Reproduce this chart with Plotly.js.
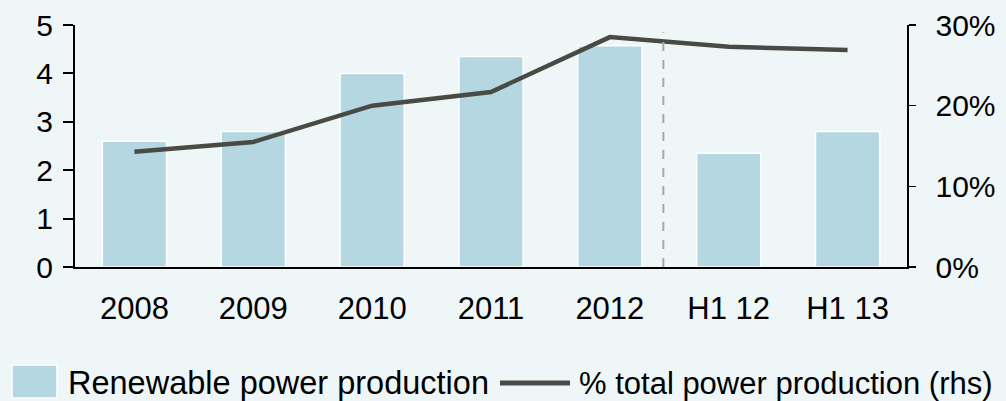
<!DOCTYPE html>
<html>
<head>
<meta charset="utf-8">
<script src="https://cdn.plot.ly/plotly-3.0.1.min.js"></script>
<style>
html,body{margin:0;padding:0;background:#eef6f8;}
#chart{width:1006px;height:401px;}
</style>
</head>
<body>
<div id="chart"></div>
<script>
const categories = ["2008", "2009", "2010", "2011", "2012", "H1 12", "H1 13"];
const renewableProduction = [2.6, 2.8, 4.0, 4.35, 4.57, 2.35, 2.8];
const shareOfTotal = [14.3, 15.5, 20.0, 21.7, 28.5, 27.3, 26.9];
const leftTicks = [0, 1, 2, 3, 4, 5];
const rightTicks = [0, 10, 20, 30];
const rightTickLabels = ["0%", "10%", "20%", "30%"];
const legendLabels = ["Renewable power production", "% total power production (rhs)"];

const barColor = "#b4d7e1";
const lineColor = "#4a4a44";
const font = "Liberation Sans, Arial, sans-serif";

const traces = [
  {
    type: "bar",
    x: categories,
    y: renewableProduction,
    name: legendLabels[0],
    marker: {color: barColor, line: {color: "#ffffff", width: 1.5}},
    width: 0.54,
    yaxis: "y",
    hoverinfo: "x+y"
  },
  {
    type: "scatter",
    mode: "lines",
    x: categories,
    y: shareOfTotal,
    name: legendLabels[1],
    line: {color: lineColor, width: 4.5},
    yaxis: "y2",
    hoverinfo: "x+y"
  }
];

const layout = {
  width: 1006,
  height: 401,
  paper_bgcolor: "#eef6f8",
  plot_bgcolor: "#eef6f8",
  margin: {l: 75, r: 99, t: 25, b: 134},
  showlegend: false,
  font: {family: font, size: 30, color: "#000"},
  xaxis: {
    type: "category",
    categoryorder: "array",
    categoryarray: categories,
    range: [-0.5, 6.5],
    showline: true, linecolor: "#000", linewidth: 2,
    ticks: "", showgrid: false, zeroline: false,
    ticklabelstandoff: 13,
    tickfont: {family: font, size: 31, color: "#000"},
    fixedrange: true
  },
  yaxis: {
    range: [0, 5],
    tickvals: leftTicks,
    showline: true, linecolor: "#000", linewidth: 2,
    ticks: "outside", ticklen: 10, tickwidth: 2, tickcolor: "#000",
    showgrid: false, zeroline: false,
    ticklabelstandoff: 4,
    tickfont: {family: font, size: 30, color: "#000"},
    fixedrange: true
  },
  yaxis2: {
    overlaying: "y",
    side: "right",
    range: [0, 30],
    tickvals: rightTicks,
    ticktext: rightTickLabels,
    showline: true, linecolor: "#000", linewidth: 1.5,
    ticks: "outside", ticklen: 7, tickwidth: 1.5, tickcolor: "#000",
    showgrid: false, zeroline: false,
    ticklabelstandoff: 14,
    tickfont: {family: font, size: 30, color: "#000"},
    fixedrange: true
  },
  shapes: [
    {type: "line", xref: "x", yref: "paper", x0: 4.45, x1: 4.45, y0: 0, y1: 0.97,
     line: {color: "#a9a9a9", width: 2, dash: "dash"}},
    {type: "rect", xref: "paper", yref: "paper",
     x0: -63/832, x1: -18/832, y0: -131/242, y1: -98/242,
     fillcolor: barColor, line: {color: "#ffffff", width: 1.5}},
    {type: "line", xref: "paper", yref: "paper",
     x0: 425/832, x1: 495/832, y0: -116/242, y1: -116/242,
     line: {color: lineColor, width: 5}}
  ],
  annotations: [
    {xref: "paper", yref: "paper", x: -9/832, y: -116/242, xanchor: "left", yanchor: "middle",
     text: legendLabels[0], showarrow: false, font: {family: font, size: 32.5, color: "#000"}},
    {xref: "paper", yref: "paper", x: 502/832, y: -116/242, xanchor: "left", yanchor: "middle",
     text: legendLabels[1], showarrow: false, font: {family: font, size: 31, color: "#000"}}
  ]
};

Plotly.newPlot("chart", traces, layout, {displayModeBar: false, staticPlot: true});
</script>
</body>
</html>
